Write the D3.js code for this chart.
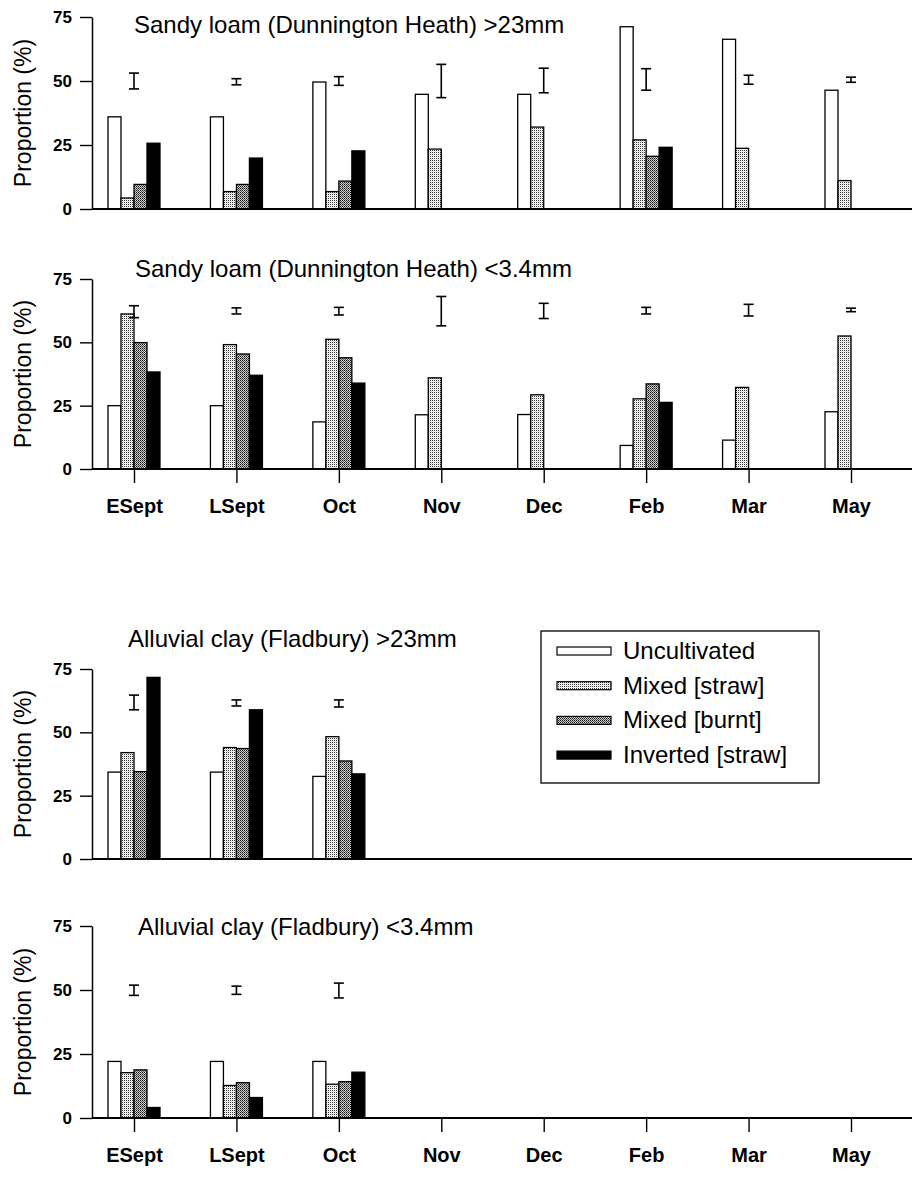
<!DOCTYPE html>
<html>
<head>
<meta charset="utf-8">
<script src="https://cdn.jsdelivr.net/npm/d3@7"></script>
<style>
  body { margin: 0; background: #fff; }
  svg { display: block; font-family: "Liberation Sans", Arial, sans-serif; }
</style>
</head>
<body>
<svg id="chart" width="914" height="1177"></svg>
<script>
// categories and series
var months = ["ESept", "LSept", "Oct", "Nov", "Dec", "Feb", "Mar", "May"];
var seriesNames = ["Uncultivated", "Mixed [straw]", "Mixed [burnt]", "Inverted [straw]"];
var yTicks = [0, 25, 50, 75];

// Sandy loam >23mm
var sandyCoarseUncult   = [36, 36, 49.6, 44.8, 44.8, 71.2, 66.3, 46.4];
var sandyCoarseStraw    = [4.3, 6.8, 6.8, 23.4, 32, 27, 23.7, 11.1];
var sandyCoarseBurnt    = [9.6, 9.6, 10.9, null, null, 20.6, null, null];
var sandyCoarseInverted = [25.7, 19.9, 22.7, null, null, 24.1, null, null];
var sandyCoarseErrMid   = [50, 49.7, 50, 50, 50.2, 50.6, 50.5, 50.5];
var sandyCoarseErrHalf  = [3.1, 1.2, 1.7, 6.5, 4.8, 4.2, 1.75, 1];

// Sandy loam <3.4mm
var sandyFineUncult   = [25, 25, 18.6, 21.4, 21.5, 9.3, 11.4, 22.6];
var sandyFineStraw    = [61.2, 49.1, 51.2, 36, 29.3, 27.7, 32.2, 52.5];
var sandyFineBurnt    = [49.9, 45.4, 43.9, null, null, 33.6, null, null];
var sandyFineInverted = [38.3, 37, 33.9, null, null, 26.3, null, null];
var sandyFineErrMid   = [62.1, 62.4, 62.3, 62.3, 62.4, 62.5, 62.7, 62.8];
var sandyFineErrHalf  = [2.35, 1.2, 1.5, 5.8, 3, 1.3, 2.3, 0.7];

// Alluvial clay >23mm
var clayCoarseUncult   = [34.3, 34.3, 32.6, null, null, null, null, null];
var clayCoarseStraw    = [42, 44, 48.3, null, null, null, null, null];
var clayCoarseBurnt    = [34.5, 43.6, 38.7, null, null, null, null, null];
var clayCoarseInverted = [71.7, 58.9, 33.6, null, null, null, null, null];
var clayCoarseErrMid   = [61.8, 61.6, 61.4, null, null, null, null, null];
var clayCoarseErrHalf  = [2.9, 1.2, 1.4, null, null, null, null, null];

// Alluvial clay <3.4mm
var clayFineUncult   = [22.1, 22.1, 22.1, null, null, null, null, null];
var clayFineStraw    = [17.7, 12.7, 13.2, null, null, null, null, null];
var clayFineBurnt    = [18.8, 13.8, 14.2, null, null, null, null, null];
var clayFineInverted = [4.1, 8, 17.9, null, null, null, null, null];
var clayFineErrMid   = [49.9, 49.9, 49.8, null, null, null, null, null];
var clayFineErrHalf  = [2, 1.6, 2.9, null, null, null, null, null];

var panels = [
  {title: "Sandy loam (Dunnington Heath) >23mm", top: 17, bottom: 209, tx: 134, ty: 33, labels: false,
   series: [sandyCoarseUncult, sandyCoarseStraw, sandyCoarseBurnt, sandyCoarseInverted],
   mid: sandyCoarseErrMid, half: sandyCoarseErrHalf},
  {title: "Sandy loam (Dunnington Heath) <3.4mm", top: 279, bottom: 469, tx: 135, ty: 277, labels: true,
   series: [sandyFineUncult, sandyFineStraw, sandyFineBurnt, sandyFineInverted],
   mid: sandyFineErrMid, half: sandyFineErrHalf},
  {title: "Alluvial clay (Fladbury) >23mm", top: 669, bottom: 859, tx: 128, ty: 647, labels: false,
   series: [clayCoarseUncult, clayCoarseStraw, clayCoarseBurnt, clayCoarseInverted],
   mid: clayCoarseErrMid, half: clayCoarseErrHalf},
  {title: "Alluvial clay (Fladbury) <3.4mm", top: 926, bottom: 1118, tx: 138, ty: 935, labels: true,
   series: [clayFineUncult, clayFineStraw, clayFineBurnt, clayFineInverted],
   mid: clayFineErrMid, half: clayFineErrHalf}
];

var svg = d3.select("#chart");
var defs = svg.append("defs");

// dotted fills for the two "mixed" treatments
function dotPattern(id, cells) {
  var p = defs.append("pattern").attr("id", id)
    .attr("patternUnits", "userSpaceOnUse").attr("width", 2).attr("height", 2);
  cells.forEach(function(c) {
    p.append("rect").attr("x", c[0]).attr("y", c[1]).attr("width", 1).attr("height", 1).attr("fill", c[2]);
  });
}
dotPattern("straw", [[0, 0, "#333"], [1, 0, "#fff"], [0, 1, "#fff"], [1, 1, "#ddd"]]);
dotPattern("burnt", [[0, 0, "#111"], [1, 0, "#ccc"], [0, 1, "#ccc"], [1, 1, "#555"]]);

var fills = ["#fff", "url(#straw)", "url(#burnt)", "#000"];
var barW = 13;

var x = d3.scalePoint().domain(months).range([134, 851]);
var axisLeftX = 92, axisRightX = 912;

panels.forEach(function(p) {
  var y = d3.scaleLinear().domain([0, 75]).range([p.bottom, p.top]);
  var g = svg.append("g");

  // y axis
  var ya = g.append("g").attr("transform", "translate(" + axisLeftX + ",0)")
    .call(d3.axisLeft(y).tickValues(yTicks).tickSize(12).tickSizeOuter(0).tickPadding(8));
  ya.select(".domain").attr("stroke-width", 1.5);
  ya.selectAll(".tick line").attr("stroke-width", 1.4);
  ya.selectAll(".tick text").attr("font-size", 17).attr("font-weight", "bold")
    .attr("font-family", "Liberation Sans, Arial, sans-serif").attr("fill", "#000");

  g.append("text")
    .attr("transform", "translate(31," + ((p.top + p.bottom) / 2) + ") rotate(-90)")
    .attr("text-anchor", "middle").attr("font-size", 23)
    .text("Proportion (%)");

  // bars
  p.series.forEach(function(vals, si) {
    g.append("g").selectAll("rect")
      .data(months.map(function(m, i) { return {m: m, v: vals[i]}; }).filter(function(d) { return d.v != null; }))
      .join("rect")
      .attr("x", function(d) { return x(d.m) - 2 * barW + si * barW; })
      .attr("y", function(d) { return y(d.v); })
      .attr("width", barW)
      .attr("height", function(d) { return y(0) - y(d.v); })
      .attr("fill", fills[si])
      .attr("stroke", "#000").attr("stroke-width", 1.3);
  });

  // error bars
  var errs = months.map(function(m, i) { return {m: m, mid: p.mid[i], half: p.half[i]}; })
    .filter(function(d) { return d.mid != null; });
  var eg = g.append("g").attr("stroke", "#000").attr("stroke-width", 1.6);
  errs.forEach(function(d) {
    var cx = x(d.m);
    eg.append("line").attr("x1", cx).attr("x2", cx).attr("y1", y(d.mid + d.half)).attr("y2", y(d.mid - d.half));
    eg.append("line").attr("x1", cx - 5).attr("x2", cx + 5).attr("y1", y(d.mid + d.half)).attr("y2", y(d.mid + d.half));
    eg.append("line").attr("x1", cx - 5).attr("x2", cx + 5).attr("y1", y(d.mid - d.half)).attr("y2", y(d.mid - d.half));
  });

  // baseline
  g.append("line").attr("x1", axisLeftX).attr("x2", axisRightX)
    .attr("y1", y(0)).attr("y2", y(0)).attr("stroke", "#000").attr("stroke-width", 1.8);

  if (p.labels) {
    var xa = g.append("g").attr("transform", "translate(0," + y(0) + ")")
      .call(d3.axisBottom(x).tickSize(14).tickSizeOuter(0).tickPadding(16));
    xa.select(".domain").remove();
    xa.selectAll(".tick line").attr("stroke-width", 1.4);
    xa.selectAll(".tick text").attr("font-size", 20).attr("font-weight", "bold")
      .attr("font-family", "Liberation Sans, Arial, sans-serif").attr("fill", "#000");
  }

  g.append("text").attr("x", p.tx).attr("y", p.ty)
    .attr("font-size", 24).text(p.title);
});

// legend
var lg = svg.append("g");
lg.append("rect").attr("x", 541).attr("y", 631).attr("width", 278).attr("height", 152)
  .attr("fill", "#fff").attr("stroke", "#000").attr("stroke-width", 1.3);
seriesNames.forEach(function(name, i) {
  var cy = 651 + i * 34.7;
  lg.append("rect").attr("x", 557).attr("y", cy - 4).attr("width", 54).attr("height", 8)
    .attr("fill", fills[i]).attr("stroke", "#000").attr("stroke-width", 1.2);
  lg.append("text").attr("x", 623).attr("y", cy + 8).attr("font-size", 24).text(name);
});
</script>
</body>
</html>
